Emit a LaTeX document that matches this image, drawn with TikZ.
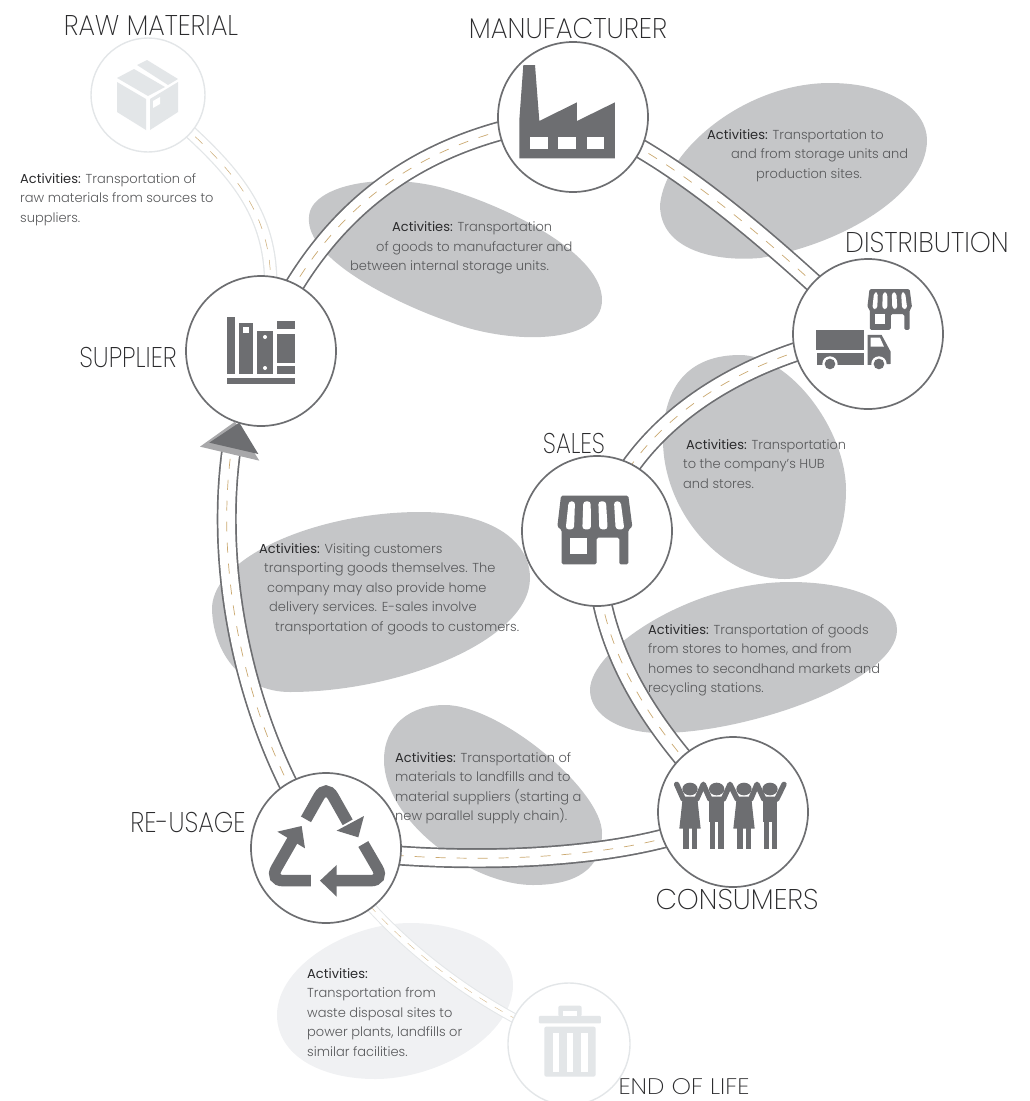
\documentclass[tikz,border=0pt]{standalone}
\usepackage{fontspec}
\usetikzlibrary{calc}
\setmainfont{Poppins Light}
\newfontfamily\lblfont[FakeStretch=.88]{Poppins ExtraLight}
\newfontfamily\actfont{Poppins}
\definecolor{ink}{HTML}{6D6E71}
\definecolor{pale}{HTML}{E3E6E8}
\definecolor{blobc}{HTML}{C5C6C8}
\definecolor{blobl}{HTML}{F0F1F3}
\definecolor{dashc}{HTML}{CBA971}
\definecolor{txt}{HTML}{58595B}
\definecolor{lbl}{HTML}{2B2B2D}
\pgfdeclarelayer{blob}\pgfdeclarelayer{road}
\pgfsetlayers{blob,road,main}
\newcommand{\act}{{\actfont\color{lbl}Activities:}}
\newcommand{\shopicon}[1]{%
  \fill[#1,rounded corners=1.5pt] (183,197)--(385,197)--(397,290)--(385,300)--(385,403)--(358,403)--(358,323)--(290,323)--(290,403)--(185,403)--(185,300)--(172,290)--cycle;
  \fill[white] (210,323) rectangle (260,373);
  \foreach \a/\b/\c/\d in {206/225/197/222,250/272/247/273,295/318/298/323,342/362/347/373}{
    \fill[white,rounded corners=3pt] (\a,214)--(\b,214)--(\d,298)--(\c,298)--cycle;}
}
\tikzset{
  x={(1pt,0)},y={(0,-1pt)},
  hub/.style={circle,draw=ink,line width=1.7pt,fill=white,minimum size=150pt,inner sep=0pt},
  ghost/.style={circle,draw=pale,line width=1.4pt,fill=white,inner sep=0pt},
  road/.style={line width=16.6pt,draw=white,preaction={draw=ink,line width=20pt},
    postaction={draw=dashc,line width=.7pt,dash pattern=on 10pt off 11pt}},
  roadlight/.style={line width=11pt,draw=white,preaction={draw=pale,line width=13.6pt},
    postaction={draw=dashc,line width=.5pt,dash pattern=on 10pt off 11pt}},
  roadfaint/.style={line width=8pt,draw=white,preaction={draw=pale,line width=10pt},
    postaction={draw=dashc!80,line width=.4pt,dash pattern=on 9pt off 9pt}},
  blobshape/.style={fill=blobc},
  bloblight/.style={fill=blobl},
  lab/.style={font=\lblfont\fontsize{28.5}{32}\selectfont,text=lbl,inner sep=0pt,transform shape},
  acttext/.style={font=\fontsize{13}{19.5}\selectfont,text=txt,align=left,anchor=north west,inner sep=0pt},
}
\begin{document}
\begin{tikzpicture}
\useasboundingbox (0,0) rectangle (1029,1101);
% nodes
\node[ghost,minimum size=114pt] (raw) at (148,95) {};
\node[hub] (sup) at (261,351) {};
\node[hub] (man) at (573,117) {};
\node[hub] (dis) at (868,334) {};
\node[hub] (sal) at (597,531) {};
\node[hub] (con) at (733,812) {};
\node[hub] (reu) at (326,848) {};
\node[ghost,minimum size=122pt] (eol) at (569,1044) {};
\coordinate (headbase) at (232,445);
% blobs
\begin{pgfonlayer}{blob}
\fill[blobshape] (309,217) .. controls (310,185) and (385,170) .. (450,190) .. controls (515,210) and (602,255) .. (602,300) .. controls (602,345) and (510,345) .. (450,322) .. controls (400,305) and (305,260) .. cycle;
\fill[blobshape] (830,83) .. controls (890,83) and (927,110) .. (927,140) .. controls (927,195) and (840,245) .. (760,258) .. controls (715,262) and (660,250) .. (660,205) .. controls (665,150) and (745,83) .. cycle;
\fill[blobshape] (740,355) .. controls (790,355) and (846,430) .. (846,490) .. controls (846,540) and (825,579) .. (785,579) .. controls (720,579) and (663,510) .. (663,440) .. controls (663,385) and (690,355) .. cycle;
\fill[blobshape] (790,582) .. controls (850,582) and (897,600) .. (897,630) .. controls (897,680) and (750,733) .. (660,733) .. controls (620,733) and (590,715) .. (590,690) .. controls (590,650) and (690,582) .. cycle;
\fill[blobshape] (420,512) .. controls (490,512) and (530,540) .. (530,578) .. controls (530,640) and (400,692) .. (290,692) .. controls (240,692) and (212,650) .. (212,607) .. controls (215,555) and (320,512) .. cycle;
\fill[blobshape] (445,705) .. controls (500,705) and (602,790) .. (602,833) .. controls (602,870) and (575,885) .. (533,885) .. controls (470,885) and (384,820) .. (384,760) .. controls (384,725) and (410,705) .. cycle;
\fill[bloblight] (410,923) .. controls (470,923) and (513,950) .. (513,985) .. controls (513,1035) and (440,1079) .. (375,1079) .. controls (320,1079) and (277,1055) .. (277,1015) .. controls (277,965) and (350,923) .. cycle;
\end{pgfonlayer}
% roads
\begin{pgfonlayer}{road}
\draw[roadlight] (raw.center) .. controls (235,170) and (295,220) .. (sup.center);
\draw[road] (sup.center) .. controls (320,210) and (420,135) .. (man.center);
\draw[road] (man.center) .. controls (660,145) and (770,240) .. (dis.center);
\draw[road] (dis.center) .. controls (770,350) and (640,405) .. (sal.center);
\draw[road] (sal.center) .. controls (590,640) and (650,730) .. (con.center);
\draw[road] (con.center) .. controls (650,860) and (470,868) .. (reu.center);
\draw[road] (reu.center) .. controls (250,740) and (212,580) .. (headbase);
\draw[roadfaint] (reu.center) .. controls (370,920) and (460,1000) .. (eol.center);
\end{pgfonlayer}
% arrow head
\begin{scope}[shift={(200,410)},scale=.3333]
\fill[blobc!85!black] (105,35)--(0,110)--(178,152)--cycle;
\fill[ink] (118,38)--(28,98)--(175,132)--cycle;
\end{scope}
% box icon (raw material)
\fill[pale] (117,78)--(134,69)--(165,87)--(148,96)--cycle;
\fill[pale] (147,60)--(178,79)--(168,85)--(137,65)--cycle;
\fill[pale] (117,82)--(146,99)--(146,130)--(117,112)--cycle;
\fill[pale] (150,99)--(178,82)--(178,112)--(150,130)--cycle;
\fill[white] (153,101)--(160,97)--(160,104)--(153,108)--cycle;
% books
\fill[ink] (227,317) rectangle (235,374);
\fill[ink] (239.3,323) rectangle (253,374);
\fill[white] (242.7,327) rectangle (249.3,333);
\fill[ink] (257,331) rectangle (273,374);
\fill[white] (265,337) circle (2);
\fill[white] (265,368) circle (2);
\fill[ink] (277,321) rectangle (295,329);
\fill[ink] (277,333.5) rectangle (295,363);
\fill[ink] (277,366) rectangle (295,374);
\fill[ink] (227,378) rectangle (295,384);
% factory
\begin{scope}[shift={(480,40)},scale=.3333]
\fill[ink] (118,355)--(118,240)--(130,75)--(165,75)--(178,243)--(291,187)--(291,243)--(405,187)--(405,355)--cycle;
\fill[white] (150,290) rectangle (203,327);
\fill[white] (235,290) rectangle (288,327);
\fill[white] (320,290) rectangle (372,327);
\end{scope}
% distribution shop + truck
\begin{scope}[shift={(833.15,249.86)},scale=.1987]
\shopicon{ink}
\end{scope}
\begin{scope}[shift={(480,40)},scale=.3333]
\fill[ink] (1008,870) rectangle (1152,930);
\fill[ink] (1010,940) rectangle (1152,975);
\fill[ink] (1163,885)--(1205,885)--(1232,935)--(1232,972)--(1163,975)--cycle;
\fill[white] (1172,893)--(1200,893)--(1212,920)--(1172,920)--cycle;
\fill[white] (1050,972) circle (23);
\fill[ink] (1050,972) circle (16);
\fill[white] (1197,972) circle (23);
\fill[ink] (1197,972) circle (16);
\end{scope}
% sales shop
\begin{scope}[shift={(500,430)},scale=.3333]
\shopicon{ink}
\end{scope}
% people
\begin{scope}[shift={(640,730)},scale=.3333]
\foreach \h in {150,230,312,390}{\fill[ink] (\h,177) ellipse [x radius=23,y radius=19];}
\draw[ink,line width=5.4pt,line join=round,line cap=round] (110,163)--(130,208)--(170,208)--(190,163)--(210,208)--(250,208)--(270,163)--(292,208)--(332,208)--(351,163)--(372,208)--(410,208)--(432,163);
\fill[ink] (128,205)--(172,205)--(182,296)--(118,296)--cycle;
\fill[ink] (130,290) rectangle (146,356);
\fill[ink] (155,290) rectangle (171,356);
\fill[ink] (208,205) rectangle (252,275);
\fill[ink] (210,270) rectangle (226,356);
\fill[ink] (235,270) rectangle (251,356);
\fill[ink] (290,205)--(334,205)--(344,296)--(280,296)--cycle;
\fill[ink] (292,290) rectangle (308,356);
\fill[ink] (317,290) rectangle (333,356);
\fill[ink] (370,205) rectangle (412,275);
\fill[ink] (372,270) rectangle (388,356);
\fill[ink] (396,270) rectangle (412,356);
\end{scope}
% recycle + trash
\begin{scope}[shift={(230,740)},scale=.3333]
\draw[ink,line width=11.5pt,rounded corners=14pt] (228,238)--(288,132)--(353,247);
\fill[ink] (402,228)--(385,292)--(320,272)--cycle;
\draw[ink,line width=11.5pt,rounded corners=14pt] (188,300)--(118,422)--(243,422);
\fill[ink] (142,275)--(215,258)--(225,325)--cycle;
\draw[ink,line width=11.5pt,rounded corners=14pt] (400,312)--(464,422)--(318,422);
\fill[ink] (320,375)--(320,470)--(270,422)--cycle;
\fill[pale,rounded corners=1pt] (927,828) rectangle (1113,850);
\fill[pale,rounded corners=2pt] (985,830)--(985,797)--(1055,797)--(1055,830)--cycle;
\fill[white] (1000,812) rectangle (1040,828);
\fill[pale,rounded corners=2pt] (943,860) rectangle (1097,1010);
\fill[white] (968,878) rectangle (987,995);
\fill[white] (1011,878) rectangle (1030,995);
\fill[white] (1053,878) rectangle (1073,995);
\end{scope}
% labels
\node[lab,xscale=1.048] (lraw) at (151,25) {RAW MATERIAL};
\node[lab,xscale=1.07] (lman) at (568,28) {MANUFACTURER};
\node[lab,xscale=1.066] (ldis) at (927,243) {DISTRIBUTION};
\node[lab,xscale=.98] (lsup) at (128,357) {SUPPLIER};
\node[lab,xscale=.94] (lsal) at (574,443) {SALES};
\node[lab,xscale=.99] (lreu) at (188,822) {RE-USAGE};
\node[lab,xscale=1.11] (lcon) at (737,899) {CONSUMERS};
\node[lab,xscale=1.25,font=\lblfont\fontsize{22.5}{25}\selectfont] (leol) at (684,1087) {END OF LIFE};
% activity texts
\node[acttext] (t1) at (20,173) {\act{} Transportation of\\raw materials from sources to\\suppliers.};
\node[acttext] (t2) at (350,221.5) {\hspace*{42pt}\act{} Transportation\\\hspace*{26pt}of goods to manufacturer and\\between internal storage units.};
\node[acttext] (t3) at (707,129) {\act{} Transportation to\\\hspace*{24pt}and from storage units and\\\hspace*{49pt}production sites.};
\node[acttext] (t4) at (683,439) {\hspace*{3pt}\act{} Transportation\\to the company's HUB\\and stores.};
\node[acttext] (t5) at (259,543) {\act{} Visiting customers\\\hspace*{5pt}transporting goods themselves. The\\\hspace*{8pt}company may also provide home\\\hspace*{10pt}delivery services. E-sales involve\\\hspace*{16pt}transportation of goods to customers.};
\node[acttext] (t6) at (648,624) {\act{} Transportation of goods\\from stores to homes, and from\\homes to secondhand markets and\\recycling stations.};
\node[acttext] (t7) at (395,752) {\act{} Transportation of\\materials to landfills and to\\material suppliers (starting a\\new parallel supply chain).};
\node[acttext] (t8) at (307,968) {\act{}\\Transportation from\\waste disposal sites to\\power plants, landfills or\\similar facilities.};
\end{tikzpicture}
\end{document}
